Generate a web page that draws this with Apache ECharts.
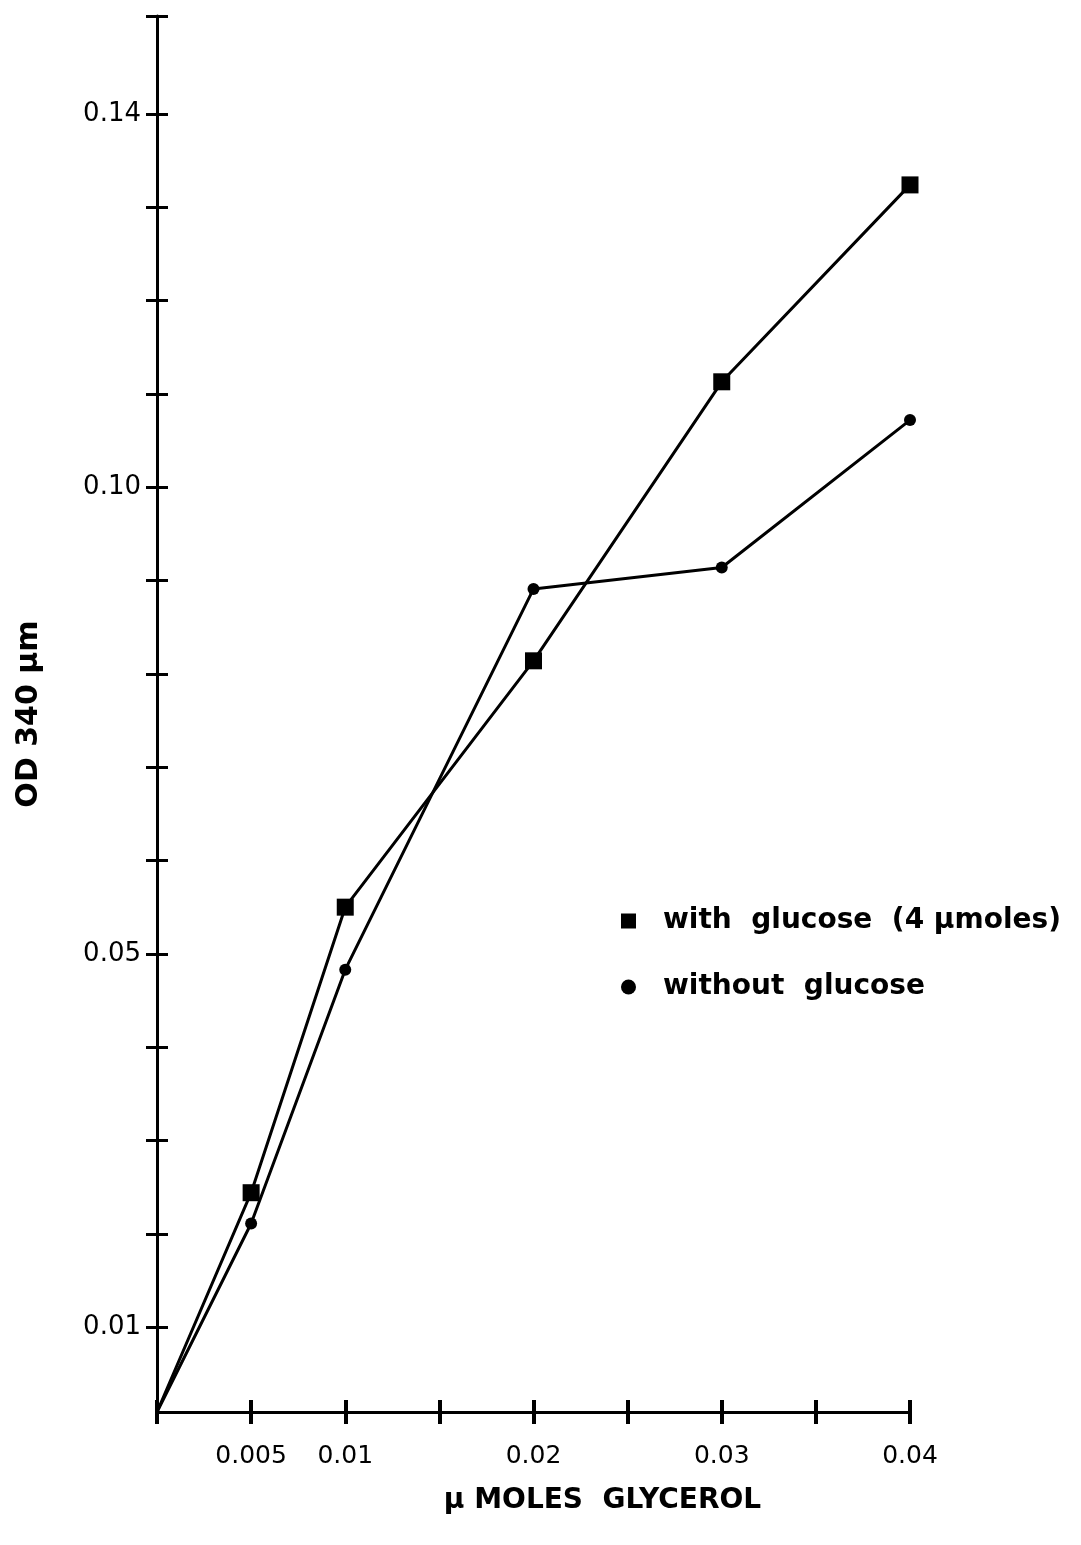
<!DOCTYPE html>
<html>
<head>
<meta charset="utf-8">
<script src="https://cdn.jsdelivr.net/npm/echarts@6/dist/echarts.min.js"></script>
<style>
  html, body { margin: 0; padding: 0; background: #fff; }
  #chart { width: 1081px; height: 1545px; }
</style>
</head>
<body>
<div id="chart"></div>
<script>
// x: µmoles glycerol
const glycerol = [0, 0.005, 0.01, 0.02, 0.03, 0.04];
// OD 340 readings (origin drawn a little above 0 on the original scale)
const withGlucose = [0.0009, 0.0244, 0.0550, 0.0814, 0.1113, 0.1324];
const withoutGlucose = [0.0009, 0.0211, 0.0483, 0.0891, 0.0914, 0.1072];

const xTicks = [0, 0.005, 0.01, 0.015, 0.02, 0.025, 0.03, 0.035, 0.04];
const xLabels = [0.005, 0.01, 0.02, 0.03, 0.04];
const yTicks = [0.01, 0.02, 0.03, 0.04, 0.05, 0.06, 0.07, 0.08, 0.09, 0.10, 0.11, 0.12, 0.13, 0.14, 0.1505];
const yLabels = [0.01, 0.05, 0.10, 0.14];

const Y_MIN = 0.0009;
const Y_MAX = 0.1505;
const FONT = '"DejaVu Sans", sans-serif';

const chart = echarts.init(document.getElementById('chart'));

function xFmt(v) {
  if (Math.abs(v - 0.005) < 1e-9) return '0.005';
  return v.toFixed(2);
}

const axisLine = { show: true, lineStyle: { color: '#000', width: 3 } };

const option = {
  animation: false,
  backgroundColor: '#fff',
  grid: { left: 157, right: 171, top: 16, bottom: 133, containLabel: false, outerBoundsMode: 'none' },
  legend: {
    orient: 'vertical',
    left: 616,
    top: 902,
    itemGap: 38,
    itemWidth: 15,
    itemHeight: 15,
    selectedMode: false,
    textStyle: { color: '#000', fontFamily: FONT, fontWeight: 'bold', fontSize: 28, padding: [0, 0, 0, 22] },
    data: [
      { name: 'with  glucose  (4 μmoles)', icon: 'rect' },
      { name: 'without  glucose', icon: 'circle' }
    ]
  },
  xAxis: [
    {
      type: 'value', min: 0, max: 0.04,
      axisLine: axisLine,
      axisTick: { show: true, customValues: xTicks, length: 12, lineStyle: { color: '#000', width: 4 } },
      axisLabel: { show: true, customValues: xLabels, formatter: xFmt, margin: 32,
        color: '#000', fontFamily: FONT, fontSize: 25 },
      splitLine: { show: false },
      name: 'μ MOLES  GLYCEROL', nameLocation: 'middle', nameGap: 75,
      nameTextStyle: { color: '#000', fontFamily: FONT, fontWeight: 'bold', fontSize: 28,
        padding: [0, 0, 0, 138] }
    },
    {
      type: 'value', min: 0, max: 0.04, position: 'bottom',
      axisLine: { show: false },
      axisTick: { show: true, inside: true, customValues: xTicks, length: 12, lineStyle: { color: '#000', width: 4 } },
      axisLabel: { show: false },
      splitLine: { show: false }
    }
  ],
  yAxis: [
    {
      type: 'value', min: Y_MIN, max: Y_MAX,
      axisLine: axisLine,
      axisTick: { show: true, customValues: yTicks, length: 11, lineStyle: { color: '#000', width: 3 } },
      axisLabel: { show: true, customValues: yLabels, formatter: v => v.toFixed(2), margin: 16,
        color: '#000', fontFamily: FONT, fontSize: 26 },
      splitLine: { show: false },
      name: 'OD 340 μm', nameLocation: 'middle', nameGap: 113, nameRotate: 90,
      nameTextStyle: { color: '#000', fontFamily: FONT, fontWeight: 'bold', fontSize: 30 }
    },
    {
      type: 'value', min: Y_MIN, max: Y_MAX, position: 'left',
      axisLine: { show: false },
      axisTick: { show: true, inside: true, customValues: yTicks, length: 11, lineStyle: { color: '#000', width: 3 } },
      axisLabel: { show: false },
      splitLine: { show: false }
    }
  ],
  series: [
    {
      name: 'with  glucose  (4 μmoles)',
      type: 'line',
      data: glycerol.map((x, i) => [x, withGlucose[i]]),
      symbol: 'rect',
      symbolSize: (v, p) => p.dataIndex === 0 ? 0 : 17,
      lineStyle: { color: '#000', width: 3 },
      itemStyle: { color: '#000' },
      z: 3
    },
    {
      name: 'without  glucose',
      type: 'line',
      data: glycerol.map((x, i) => [x, withoutGlucose[i]]),
      symbol: 'circle',
      symbolSize: (v, p) => p.dataIndex === 0 ? 0 : 12,
      lineStyle: { color: '#000', width: 3 },
      itemStyle: { color: '#000' },
      z: 3
    }
  ]
};

chart.setOption(option);
</script>
</body>
</html>
